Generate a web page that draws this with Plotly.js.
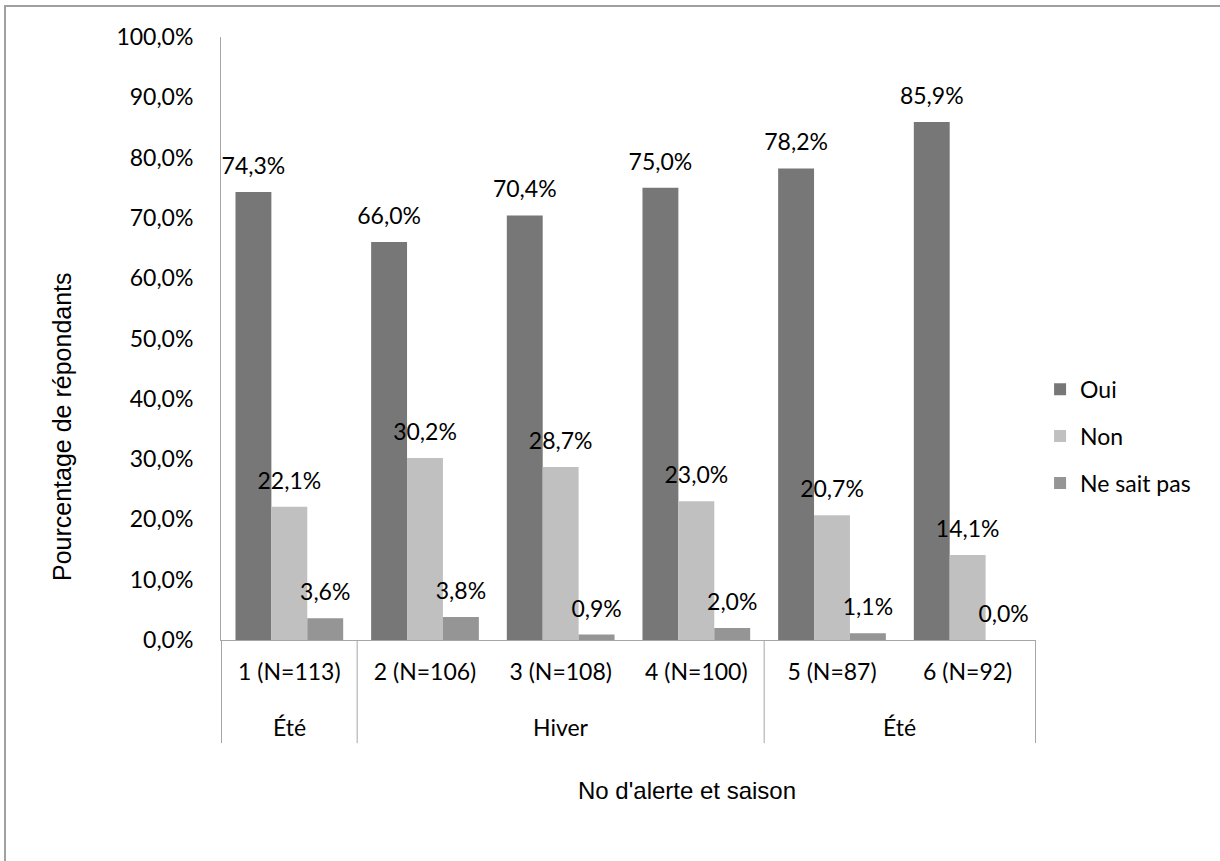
<!DOCTYPE html>
<html><head><meta charset="utf-8">
<script src="https://cdn.plot.ly/plotly-3.0.1.min.js"></script>
<style>html,body{margin:0;padding:0;background:#fff}#chart{width:1220px;height:861px}</style>
</head><body><div id="chart"></div>
<script>
const categories = ['1 (N=113)','2 (N=106)','3 (N=108)','4 (N=100)','5 (N=87)','6 (N=92)'];
const seasons = ['Été','Hiver','Hiver','Hiver','Été','Été'];
const seriesNames = ['Oui','Non','Ne sait pas'];
const oui = [74.3,66.0,70.4,75.0,78.2,85.9];
const non = [22.1,30.2,28.7,23.0,20.7,14.1];
const nsp = [3.6,3.8,0.9,2.0,1.1,0.0];
const yTicks = [0,10,20,30,40,50,60,70,80,90,100];
const colors = ['#777777','#c0c0c0','#959595'];

const fmt = v => v.toFixed(1).replace('.', ',') + '%';
const series = [oui, non, nsp];
const LFONT = 'Lato, "Open Sans", sans-serif';
const AFONT = '"Liberation Sans", Arial, sans-serif';

const traces = [];
series.forEach((vals, i) => {
  traces.push({
    type: 'bar', name: seriesNames[i], x: categories, y: vals,
    marker: {color: colors[i], line: {width: 0}},
    legendgroup: 'g' + i, hoverinfo: 'skip'
  });
});
series.forEach((vals, i) => {
  traces.push({
    type: 'scatter', mode: 'markers+text', x: categories, y: vals,
    marker: {size: 18, opacity: 0, color: colors[i]},
    text: vals.map(fmt), textposition: 'top center',
    textfont: {family: LFONT, size: 23, color: '#000'},
    showlegend: false, hoverinfo: 'skip', cliponaxis: false
  });
});

// group runs for season labels
const runs = [];
seasons.forEach((s, i) => {
  if (runs.length && runs[runs.length-1].name === s && runs[runs.length-1].end === i-1) runs[runs.length-1].end = i;
  else runs.push({name: s, start: i, end: i});
});

const shapes = [];
const annotations = [];
const divBottom = -0.171;
const bounds = [-0.5];
runs.forEach(r => bounds.push(r.end + 0.5));
bounds.forEach(b => shapes.push({type: 'line', xref: 'x', yref: 'paper', x0: b, x1: b, y0: 0, y1: divBottom,
  line: {color: '#a6a6a6', width: 1}}));
runs.forEach(r => annotations.push({xref: 'x', yref: 'paper', x: (r.start + r.end) / 2, y: -0.145,
  text: r.name, showarrow: false, yanchor: 'middle', font: {family: LFONT, size: 23, color: '#000'}}));

// outer chart border
shapes.push({type: 'rect', xref: 'paper', yref: 'paper', x0: -0.2650, x1: 1.5, y0: 1.0514, y1: -0.6,
  line: {color: '#a0a0a0', width: 2}, layer: 'below'});

annotations.push({xref: 'paper', yref: 'paper', x: (687-221)/815, y: -(790-640)/603, text: "No d'alerte et saison",
  showarrow: false, xanchor: 'center', yanchor: 'middle', font: {family: AFONT, size: 24, color: '#000'}});
annotations.push({xref: 'paper', yref: 'paper', x: -(221-62)/815, y: (640-427)/603, text: 'Pourcentage de répondants',
  showarrow: false, textangle: -90, xanchor: 'center', yanchor: 'middle', font: {family: AFONT, size: 25, color: '#000'}});

const layout = {
  width: 1220, height: 861,
  margin: {l: 221, r: 184, t: 37, b: 221, pad: 0},
  paper_bgcolor: '#fff', plot_bgcolor: '#fff',
  barmode: 'group', bargap: 0.206, bargroupgap: 0,
  scattermode: 'group', scattergap: 0.206,
  showlegend: true,
  legend: {x: 1.005, y: 0.338, xanchor: 'left', yanchor: 'middle', traceorder: 'grouped', tracegroupgap: 14,
    font: {family: LFONT, size: 23, color: '#000'}, itemwidth: 30, bgcolor: 'rgba(0,0,0,0)'},
  xaxis: {type: 'category', categoryorder: 'array', categoryarray: categories,
    showline: true, linecolor: '#a6a6a6', linewidth: 1, ticks: '', showgrid: false, zeroline: false,
    tickfont: {family: LFONT, size: 23, color: '#000'}, ticklabelstandoff: 11, fixedrange: true},
  yaxis: {range: [0, 100], tickvals: yTicks, ticktext: yTicks.map(fmt),
    showline: true, linecolor: '#a6a6a6', linewidth: 1, ticks: '', showgrid: false, zeroline: false,
    tickfont: {family: LFONT, size: 23, color: '#000'}, ticklabelstandoff: 22, fixedrange: true},
  shapes: shapes, annotations: annotations
};

Plotly.newPlot('chart', traces, layout, {displayModeBar: false, staticPlot: true});
</script>
</body></html>
